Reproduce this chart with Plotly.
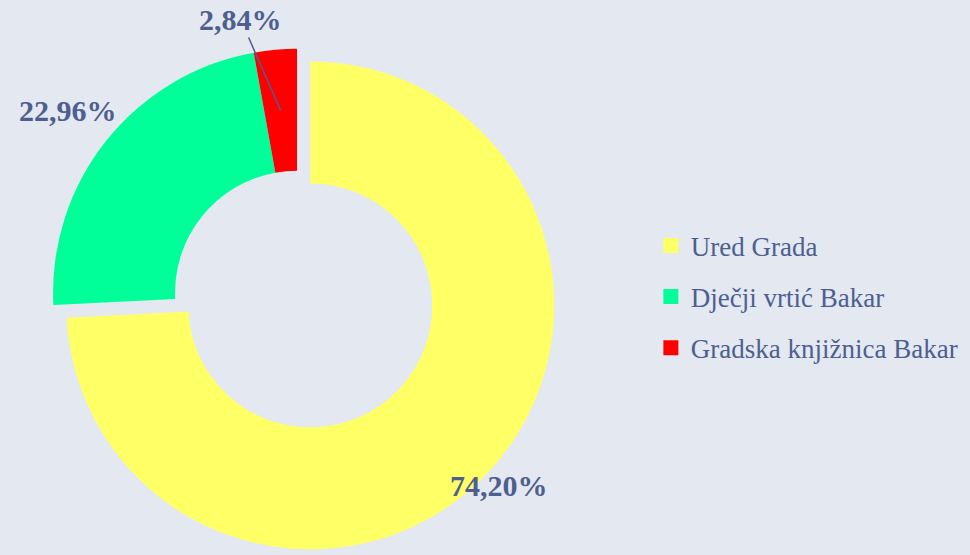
import math
import plotly.graph_objects as go

labels = ["Ured Grada", "Dječji vrtić Bakar", "Gradska knjižnica Bakar"]
values = [74.20, 22.96, 2.84]
colors = ["#FFFF66", "#00FF99", "#FF0000"]
pulls = [0.075, 0.0, 0.0]

W, H = 970, 555
BG = "#E3E8F1"
TXT = "#4E5F8F"
FONT = "Liberation Serif"
dom_x = [0.0, 0.6124]
dom_y = [0.0, 0.945]
hole = 0.5
# label placement: radial distance (in radii) for the two large slices;
# the small slice gets a leader line from the middle of its ring
label_k = [1.07, 1.2, None]
leader_offset = (-40, -91)

fig = go.Figure()
fig.add_trace(go.Pie(
    labels=labels, values=values,
    marker=dict(colors=colors, line=dict(width=0)),
    pull=pulls, hole=hole, sort=False, direction="clockwise", rotation=0,
    domain=dict(x=dom_x, y=dom_y),
    textinfo="none",
    hoverinfo="label+percent",
    showlegend=False,
))

# legend keys (one group per category so the rows can be spaced)
for lab, col in zip(labels, colors):
    fig.add_trace(go.Scatter(
        x=[None], y=[None], mode="markers", name=lab, legendgroup=lab,
        marker=dict(symbol="square", size=15, color=col),
        showlegend=True, hoverinfo="skip",
    ))

# percentage labels, placed from the slice geometry
total = sum(values)
cx = W * (dom_x[0] + dom_x[1]) / 2
cy = H * (1 - (dom_y[0] + dom_y[1]) / 2)
R = min(W * (dom_x[1] - dom_x[0]), H * (dom_y[1] - dom_y[0])) / 2 / (1 + max(pulls))
cum = 0.0
for v, p, k in zip(values, pulls, label_k):
    mid = (cum + v / 2) / total
    cum += v
    th = 2 * math.pi * mid
    sx, sy = math.sin(th), -math.cos(th)
    ox, oy = cx + p * R * sx, cy + p * R * sy
    pct = f"{v / total * 100:.2f}".replace(".", ",") + "%"
    if k is not None:
        x, y = ox + k * R * sx, oy + k * R * sy
        fig.add_annotation(
            x=x / W, y=1 - y / H, xref="paper", yref="paper",
            xanchor="center", yanchor="middle",
            text=f"<b>{pct}</b>", showarrow=False,
            font=dict(family=FONT, size=30, color=TXT),
        )
    else:
        rr = R * (1 + hole) / 2
        x, y = ox + rr * sx, oy + rr * sy
        fig.add_annotation(
            x=x / W, y=1 - y / H, xref="paper", yref="paper",
            xanchor="center", yanchor="middle",
            text=f"<b>{pct}</b>", showarrow=True, arrowhead=0, arrowwidth=1.5,
            arrowcolor=TXT, ax=leader_offset[0], ay=leader_offset[1],
            font=dict(family=FONT, size=30, color=TXT),
        )

fig.update_layout(
    width=W, height=H,
    paper_bgcolor=BG, plot_bgcolor=BG,
    margin=dict(l=0, r=0, t=0, b=0, autoexpand=False),
    xaxis=dict(visible=False), yaxis=dict(visible=False),
    legend=dict(
        x=0.671, y=0.465, xanchor="left", yanchor="middle",
        font=dict(family=FONT, size=27, color=TXT),
        bgcolor="rgba(0,0,0,0)", tracegroupgap=13,
    ),
)

fig.write_html("out.html", config={"displayModeBar": False},
               post_script="document.body.style.margin='0';")
